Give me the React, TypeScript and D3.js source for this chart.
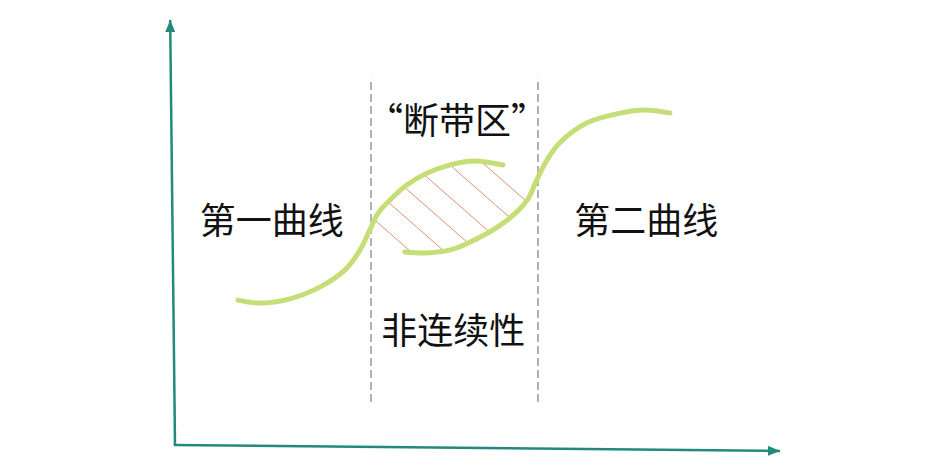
import React from "react";
import * as d3 from "d3";

// chart units: x 0..10 along the horizontal axis, y 0..10 up the vertical axis
const firstCurve: [number, number][] = [
  [1.04, 3.41], [1.4, 3.34], [1.9, 3.44], [2.4, 3.72], [2.81, 4.12],
  [3.06, 4.59], [3.22, 5.06], [3.36, 5.46], [3.55, 5.76], [3.83, 6.12],
  [4.17, 6.4], [4.55, 6.59], [4.93, 6.68], [5.42, 6.59],
];

const secondCurve: [number, number][] = [
  [3.8, 4.54], [4.17, 4.52], [4.55, 4.59], [5.04, 4.89], [5.49, 5.29],
  [5.82, 5.76], [5.98, 6.24], [6.15, 6.71], [6.36, 7.11], [6.81, 7.58],
  [7.36, 7.81], [7.77, 7.88], [8.18, 7.81],
];

// where each hatch line crosses y = 4.67
const hatchX = [3.8, 4.36, 4.91, 5.47, 6.08, 6.66];
const hatchY = 4.67;
const hatchSlope = -1.25;

const dividers = [3.24, 6.0];
const dividerSpan = [1.01, 8.64];

const yAxisEnd: [number, number] = [-0.08, 10];
const xAxisEnd: [number, number] = [10, -0.14];

const labels = [
  { text: "第一曲线", x: 1.6, y: 5.33 },
  { text: "第二曲线", x: 7.79, y: 5.33 },
  { text: "“断带区”", x: 4.66, y: 7.69 },
  { text: "非连续性", x: 4.6, y: 2.75 },
];

const teal = "#23897c";
const green = "#c6de78";

export default function App() {
  React.useEffect(() => {
    document.body.style.margin = "0";
  }, []);

  const width = 949;
  const height = 474;

  const x = d3.scaleLinear().domain([0, 10]).range([175, 780]);
  const y = d3.scaleLinear().domain([0, 10]).range([445, 20]);

  const line = d3
    .line<[number, number]>()
    .x(d => x(d[0]))
    .y(d => y(d[1]))
    .curve(d3.curveCatmullRom);

  const firstPath = line(firstCurve) || "";
  const secondPath = line(secondCurve) || "";
  const lensPath =
    firstPath +
    (line(secondCurve.slice().reverse()) || "").replace(/^M/, "L") +
    "Z";

  return (
    <svg width={width} height={height} style={{ display: "block", background: "#fff" }}>
      <defs>
        <marker
          id="arrow"
          viewBox="0 0 12 10"
          refX="12"
          refY="5"
          markerWidth="12"
          markerHeight="10"
          markerUnits="userSpaceOnUse"
          orient="auto"
        >
          <path d="M0,0L12,5L0,10Z" fill={teal} />
        </marker>
        <clipPath id="lens">
          <path d={lensPath} />
        </clipPath>
      </defs>

      {/* axes */}
      <line
        x1={x(0)} y1={y(0)} x2={x(yAxisEnd[0])} y2={y(yAxisEnd[1])}
        stroke={teal} strokeWidth={2.5} markerEnd="url(#arrow)"
      />
      <line
        x1={x(0) - 1.25} y1={y(0)} x2={x(xAxisEnd[0])} y2={y(xAxisEnd[1])}
        stroke={teal} strokeWidth={2.5} markerEnd="url(#arrow)"
      />

      {/* dashed dividers */}
      {dividers.map(d => (
        <line
          key={d}
          x1={x(d)} x2={x(d)} y1={y(dividerSpan[0])} y2={y(dividerSpan[1])}
          stroke="#a0a0a0" strokeWidth={1.6} strokeDasharray="8 4"
        />
      ))}

      {/* hatching */}
      <g clipPath="url(#lens)">
        {hatchX.map(h => (
          <line
            key={h}
            x1={x(h - 2)} y1={y(hatchY - 2 * hatchSlope)}
            x2={x(h + 2)} y2={y(hatchY + 2 * hatchSlope)}
            stroke="#e2906c" strokeWidth={1}
          />
        ))}
      </g>

      {/* curves */}
      <path d={firstPath} fill="none" stroke={green} strokeWidth={5} strokeLinecap="round" />
      <path d={secondPath} fill="none" stroke={green} strokeWidth={5} strokeLinecap="round" />

      {labels.map(l => (
        <text
          key={l.text}
          x={x(l.x)}
          y={y(l.y)}
          textAnchor="middle"
          dominantBaseline="central"
          fontFamily="'Noto Sans CJK SC', sans-serif"
          fontSize={36}
          fill="#111"
        >
          {l.text}
        </text>
      ))}
    </svg>
  );
}
